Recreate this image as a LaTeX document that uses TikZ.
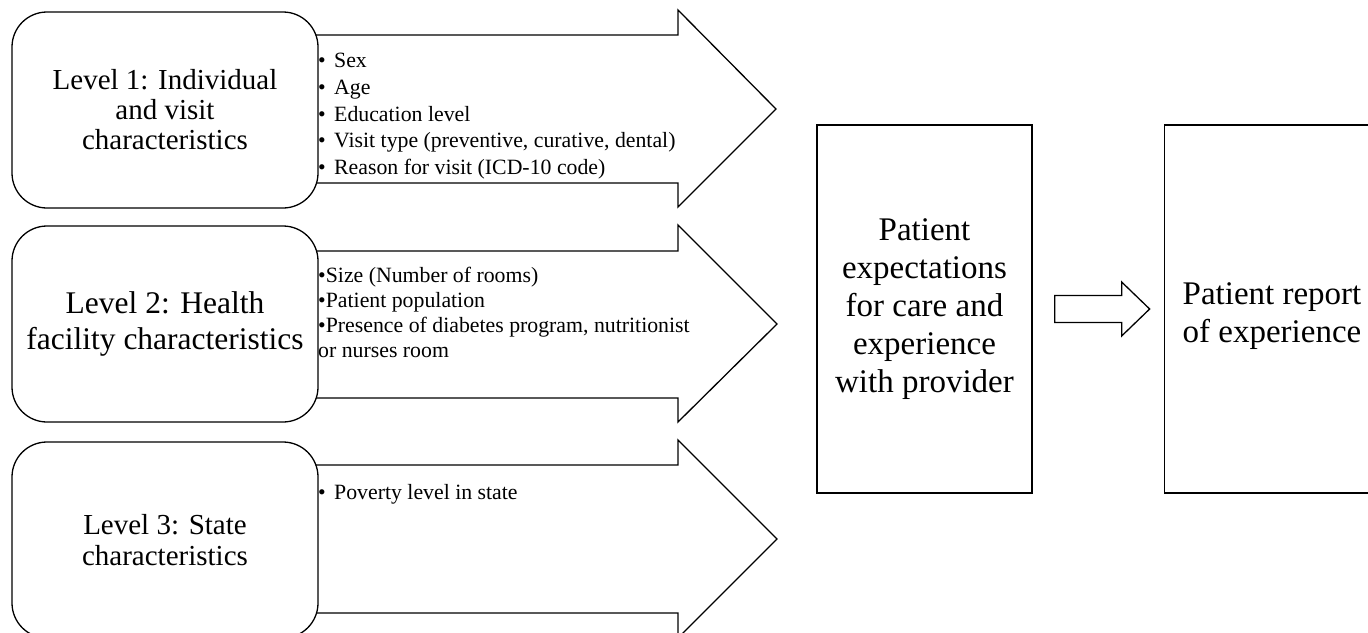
\documentclass[tikz,border=0pt]{standalone}
\usepackage{fontspec}
\setmainfont{Liberation Serif}
\usetikzlibrary{calc}

\begin{document}
\begin{tikzpicture}[x=1pt, y=-1pt,
    level/.style={draw=black, line width=1.3pt, fill=white, rounded corners=35pt,
        minimum width=306pt, minimum height=196pt, align=center, inner sep=2pt},
    band/.style={draw=black, line width=1.3pt, fill=white, line join=miter},
    outcome/.style={draw=black, line width=1.3pt, fill=white,
        minimum width=215pt, minimum height=368pt, align=center,
        font=\fontsize{33}{38}\selectfont},
    items/.style={anchor=north west, inner sep=0pt, align=left,
        font=\fontsize{21.8}{26.7}\selectfont}
]
    \useasboundingbox (0,0) rectangle (1368,632);
    \clip (0,0) rectangle (1368,632);
    % wide arrows, drawn first so the level boxes cover their tails
    \draw[band] (300,35) -- (678,35) -- (678,10) -- (776,109) -- (678,207) -- (678,183) -- (300,183) -- cycle;
    \draw[band] (300,251) -- (678,251) -- (678,225) -- (777,324) -- (678,422) -- (678,398) -- (300,398) -- cycle;
    \draw[band] (300,465) -- (678,465) -- (678,440) -- (777,539) -- (678,638) -- (678,613) -- (300,613) -- cycle;

    % levels
    \node[level, font=\fontsize{29}{30}\selectfont] (lvl1) at (165,110)
        {Level 1: Individual\\and visit\\characteristics};
    \node[level, font=\fontsize{31.5}{36}\selectfont] (lvl2) at (165,324)
        {Level 2: Health\\facility characteristics};
    \node[level, font=\fontsize{29}{31}\selectfont] (lvl3) at (165,540)
        {Level 3: State\\characteristics};
    % (level text sits a touch higher in the boxes 2 and 3)

    % lists inside the arrows
    \node[items] (list1) at (318,53)
        {\makebox[16pt][l]{\textbullet}Sex\\
         \makebox[16pt][l]{\textbullet}Age\\
         \makebox[16pt][l]{\textbullet}Education level\\
         \makebox[16pt][l]{\textbullet}Visit type (preventive, curative, dental)\\
         \makebox[16pt][l]{\textbullet}Reason for visit (ICD-10 code)};
    \node[items, font=\fontsize{21.8}{25}\selectfont] (list2) at (318,267)
        {\textbullet Size (Number of rooms)\\
         \textbullet Patient population\\
         \textbullet Presence of diabetes program, nutritionist\\
         or nurses room};
    \node[items] (list3) at (318,484)
        {\makebox[16pt][l]{\textbullet}Poverty level in state};

    % outcomes
    \node[outcome] (expect) at (924.5,309)
        {Patient\\expectations\\for care and\\experience\\with provider};
    \node[outcome] (report) at (1272,309) {};
    \node[align=center, font=\fontsize{33}{38}\selectfont] (reporttext) at ($(report.center)+(0,7)$)
        {Patient report\\of experience};

    % small arrow between the two
    \draw[band] ($(expect.east)+(22,-13.5)$) -- ($(expect.east)+(89,-13.5)$)
        -- ($(expect.east)+(89,-27)$) -- ($(expect.east)+(117,0)$)
        -- ($(expect.east)+(89,27)$) -- ($(expect.east)+(89,13.5)$)
        -- ($(expect.east)+(22,13.5)$) -- cycle;
\end{tikzpicture}
\end{document}
